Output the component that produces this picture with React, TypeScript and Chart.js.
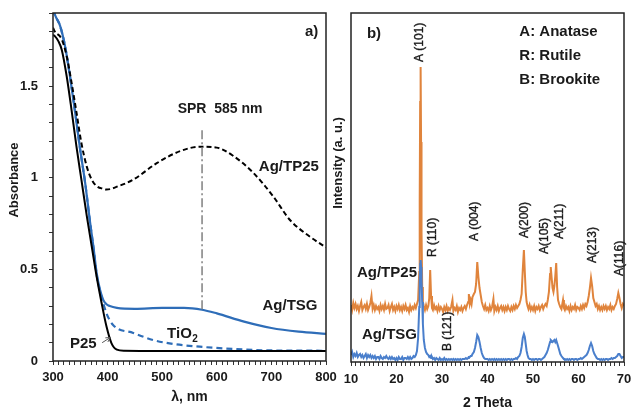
import React, { useEffect, useRef } from 'react';
import { Chart, registerables } from 'chart.js';

Chart.register(...registerables);

const FONT = '"Liberation Sans", Arial, Helvetica, sans-serif';

// ---------- Panel a) UV-Vis absorbance ----------
const p25Wavelength = [300, 303, 310, 316, 325, 334, 343, 352, 362, 371, 380, 389, 398, 407, 417, 430, 500, 600, 700, 800];
const p25Absorbance = [1.78, 1.775, 1.745, 1.70, 1.556, 1.37, 1.17, 0.99, 0.79, 0.625, 0.46, 0.317, 0.188, 0.098, 0.062, 0.056, 0.055, 0.055, 0.055, 0.055];

const agTP25Wavelength = [300, 303, 316, 325, 334, 343, 352, 362, 371, 380, 392, 398, 420, 447, 490, 533, 569, 600, 630, 666, 703, 734, 770, 800];
const agTP25Absorbance = [1.82, 1.80, 1.757, 1.665, 1.52, 1.357, 1.19, 1.06, 0.99, 0.955, 0.94, 0.936, 0.955, 0.99, 1.08, 1.146, 1.17, 1.165, 1.12, 1.03, 0.90, 0.77, 0.68, 0.62];

const agTSGWavelength = [300, 305, 313, 322, 331, 340, 349, 359, 368, 374, 380, 386, 392, 398, 404, 417, 450, 500, 540, 573, 600, 650, 700, 750, 800];
const agTSGAbsorbance = [1.92, 1.88, 1.83, 1.72, 1.556, 1.37, 1.17, 0.97, 0.755, 0.625, 0.48, 0.39, 0.334, 0.31, 0.30, 0.29, 0.285, 0.29, 0.29, 0.28, 0.26, 0.215, 0.18, 0.16, 0.148];

const tio2Wavelength = [300, 305, 313, 322, 331, 340, 349, 359, 368, 374, 380, 389, 398, 410, 447, 483, 520, 569, 630, 692, 800];
const tio2Absorbance = [1.92, 1.88, 1.83, 1.72, 1.556, 1.37, 1.17, 0.97, 0.755, 0.62, 0.47, 0.35, 0.26, 0.197, 0.153, 0.115, 0.093, 0.078, 0.066, 0.058, 0.056];

const sprWavelength = 573;
const sprRange = [0.28, 1.26];

const uvTicksX = [300, 400, 500, 600, 700, 800];

// ---------- Panel b) XRD ----------
const twoTheta = [
  10, 10.25, 10.5, 10.75, 11, 11.25, 11.5, 11.75, 12, 12.25, 12.5, 12.75, 13, 13.25, 13.5, 13.75,
  14, 14.25, 14.5, 14.75, 15, 15.25, 15.5, 15.75, 16, 16.25, 16.5, 16.75, 17, 17.25, 17.5, 17.75,
  18, 18.25, 18.5, 18.75, 19, 19.25, 19.5, 19.75, 20, 20.25, 20.5, 20.75, 21, 21.25, 21.5, 21.75,
  22, 22.25, 22.5, 22.75, 23, 23.25, 23.5, 23.75, 24, 24.25, 24.5, 24.75,
  25, 25.1, 25.2, 25.3, 25.4, 25.5, 25.65, 25.8, 26, 26.25, 26.5, 26.75,
  27, 27.2, 27.4, 27.6, 27.8, 28, 28.25, 28.5, 28.75, 29, 29.25, 29.5, 29.75,
  30, 30.25, 30.5, 30.75, 31, 31.25, 31.5, 31.75, 32, 32.3, 32.5, 32.75,
  33, 33.25, 33.5, 33.75, 34, 34.25, 34.5, 34.75, 35, 35.25, 35.5, 35.75, 35.9,
  36.1, 36.3, 36.5, 36.7, 37, 37.25, 37.5, 37.75, 38, 38.25, 38.5, 38.75,
  39, 39.25, 39.5, 39.75, 40, 40.25, 40.5, 40.75, 41, 41.3, 41.5, 41.75,
  42, 42.25, 42.5, 42.75, 43, 43.25, 43.5, 43.75, 44, 44.25, 44.5, 44.75, 45, 45.25, 45.5, 45.75, 46, 46.25, 46.5, 46.75,
  47, 47.25, 47.5, 47.75, 48, 48.2, 48.4, 48.6, 48.8,
  49, 49.25, 49.5, 49.75, 50, 50.25, 50.5, 50.75, 51, 51.25, 51.5, 51.75, 52, 52.25, 52.5, 52.75,
  53, 53.25, 53.5, 53.75, 53.9, 54.1, 54.3, 54.5, 54.7, 54.9, 55.1, 55.3, 55.5, 55.75,
  56, 56.25, 56.6, 56.8,
  57, 57.25, 57.5, 57.75, 58, 58.25, 58.5, 58.75, 59, 59.25, 59.5, 59.75, 60, 60.25, 60.5, 60.75, 61, 61.25, 61.5, 61.75,
  62, 62.25, 62.5, 62.75, 63, 63.25, 63.5, 63.75,
  64, 64.25, 64.5, 64.75, 65, 65.25, 65.5, 65.75, 66, 66.25, 66.5, 66.75, 67, 67.25, 67.5, 67.75,
  68, 68.25, 68.5, 68.75, 69, 69.25, 69.5, 69.75, 70,
];
const agTP25Intensity = [
  57, 52, 59, 54, 58, 53, 56, 51, 56, 60, 52, 55, 57, 53, 58, 52,
  55, 59, 66, 53, 57, 52, 56, 53, 55, 51, 57, 53, 56, 52, 58, 53,
  54, 57, 51, 55, 58, 52, 55, 51, 56, 53, 57, 52, 55, 51, 56, 53,
  57, 52, 54, 50, 56, 52, 55, 53, 57, 54, 58, 62,
  90, 160, 260, 295, 220, 130, 75, 60, 56, 52, 57, 53,
  56, 64, 92, 66, 54, 52, 57, 53, 55, 51, 56, 52, 55,
  53, 50, 55, 52, 56, 51, 54, 52, 55, 62, 51, 54,
  52, 56, 50, 54, 52, 55, 51, 54, 56, 53, 57, 60, 68,
  58, 62, 58, 65, 68, 70, 78, 100, 85, 74, 67, 60,
  56, 53, 57, 52, 54, 51, 56, 52, 55, 63, 51, 55,
  52, 56, 51, 54, 56, 52, 55, 51, 55, 52, 56, 53, 51, 55, 52, 56, 53, 57, 54, 56,
  58, 62, 68, 92, 112, 90, 70, 60, 56,
  53, 57, 52, 55, 52, 56, 51, 55, 53, 56, 52, 55, 57, 53, 56, 58,
  56, 62, 70, 88, 95, 84, 74, 70, 76, 86, 99, 75, 62, 58,
  55, 53, 62, 54,
  52, 56, 53, 55, 51, 56, 52, 55, 53, 57, 52, 55, 54, 52, 56, 53, 57, 54, 58, 56,
  60, 66, 74, 84, 76, 64, 60, 56,
  58, 53, 56, 52, 55, 52, 56, 53, 56, 52, 55, 53, 57, 52, 55, 53,
  56, 58, 63, 69, 64, 58, 54, 58, 56,
];
const agTSGIntensity = [
  7, 10, 5, 8, 6, 9, 5, 7, 8, 5, 7, 4, 6, 8, 4, 7,
  5, 7, 4, 6, 4, 6, 3, 5, 5, 3, 6, 4, 3, 5, 4, 6,
  4, 3, 5, 3, 5, 3, 4, 2, 4, 2, 5, 3, 3, 5, 2, 4,
  4, 3, 5, 3, 5, 3, 4, 6, 5, 7, 11, 24,
  55, 80, 98, 102, 95, 82, 60, 38, 22, 14, 10, 8,
  7, 5, 6, 4, 5, 3, 4, 2, 4, 3, 2, 4, 2,
  3, 2, 4, 2, 3, 2, 3, 2, 3, 2, 3, 2,
  3, 2, 3, 2, 3, 2, 3, 3, 3, 4, 3, 4, 5,
  5, 6, 6, 8, 10, 14, 20, 27, 25, 20, 14, 9,
  6, 4, 3, 3, 3, 2, 3, 2, 3, 2, 3, 2,
  3, 2, 3, 2, 3, 2, 3, 2, 3, 2, 3, 3, 2, 3, 2, 3, 3, 4, 3, 5,
  6, 9, 15, 24, 28, 25, 18, 11, 7,
  4, 3, 3, 2, 3, 2, 3, 3, 2, 3, 3, 2, 3, 4, 5, 7,
  9, 12, 16, 20, 22, 21, 20, 21, 22, 20, 22, 19, 16, 12,
  8, 6, 4, 3,
  3, 2, 3, 2, 3, 2, 3, 3, 2, 3, 3, 2, 3, 3, 4, 3, 4, 5, 6, 7,
  9, 12, 16, 19, 16, 11, 8, 6,
  4, 3, 3, 2, 3, 2, 3, 2, 3, 3, 2, 3, 3, 4, 3, 4,
  4, 5, 6, 8, 8, 6, 4, 5, 5,
];

const peakLabels = ['A (101)', 'R (110)', 'A (004)', 'A(200)', 'A(105)', 'A(211)', 'A(213)', 'A(116)', 'B (121)'];
const peakLabelTheta = [25.2, 28.0, 37.25, 48.2, 52.6, 55.9, 63.2, 69.0, 31.3];
const peakLabelBase = [300, 105, 121, 124, 108, 123, 99, 86, 11];

const phaseLegend = ['A: Anatase', 'R: Rutile', 'B: Brookite'];
const xrdTicksX = [10, 20, 30, 40, 50, 60, 70];

const zip = (xs: number[], ys: number[]) => xs.map((x, i) => ({ x, y: ys[i] }));

const TEXT = '#1a1a1a';

const framePlugin = {
  id: 'frame',
  afterDraw(chart: any) {
    const { ctx, chartArea } = chart;
    const { left, top, right, bottom } = chartArea;
    ctx.save();
    ctx.strokeStyle = '#222';
    ctx.lineWidth = 1.5;
    ctx.strokeRect(left, top, right - left, bottom - top);
    ctx.restore();
  },
};

const uvAnnotations = {
  id: 'uvAnn',
  afterDraw(chart: any) {
    const { ctx } = chart;
    const xs = chart.scales.x;
    const ys = chart.scales.y;
    const px = (v: number) => xs.getPixelForValue(v);
    const py = (v: number) => ys.getPixelForValue(v);
    ctx.save();
    // SPR dash-dot line
    ctx.strokeStyle = '#808080';
    ctx.lineWidth = 1.5;
    ctx.setLineDash([9, 3, 2, 3]);
    ctx.beginPath();
    ctx.moveTo(px(sprWavelength), py(sprRange[1]));
    ctx.lineTo(px(sprWavelength), py(sprRange[0]));
    ctx.stroke();
    ctx.setLineDash([]);

    ctx.fillStyle = TEXT;
    ctx.textBaseline = 'middle';
    ctx.font = `bold 15px ${FONT}`;
    ctx.textAlign = 'right';
    ctx.fillText('a)', px(786), py(1.795));
    ctx.textAlign = 'center';
    ctx.font = `bold 14px ${FONT}`;
    ctx.fillText('SPR  585 nm', px(606), py(1.374));
    ctx.font = `bold 15px ${FONT}`;
    ctx.fillText('Ag/TP25', px(732), py(1.06));
    ctx.fillText('Ag/TSG', px(734), py(0.30));
    ctx.textAlign = 'left';
    ctx.fillText('P25', px(331), py(0.093));
    // TiO2 with subscript
    const tx = px(509);
    const ty = py(0.148);
    ctx.fillText('TiO', tx, ty);
    const w = ctx.measureText('TiO').width;
    ctx.font = `bold 10px ${FONT}`;
    ctx.fillText('2', tx + w + 0.5, ty + 5);

    // arrow from P25 label to curve
    const x1 = px(390), y1 = py(0.10), x2 = px(405), y2 = py(0.128);
    ctx.strokeStyle = '#555';
    ctx.lineWidth = 1;
    ctx.beginPath();
    ctx.moveTo(x1, y1);
    ctx.lineTo(x2, y2);
    const ang = Math.atan2(y2 - y1, x2 - x1);
    ctx.moveTo(x2, y2);
    ctx.lineTo(x2 - 5 * Math.cos(ang - 0.5), y2 - 5 * Math.sin(ang - 0.5));
    ctx.moveTo(x2, y2);
    ctx.lineTo(x2 - 5 * Math.cos(ang + 0.5), y2 - 5 * Math.sin(ang + 0.5));
    ctx.stroke();

    // axis titles
    ctx.fillStyle = TEXT;
    ctx.font = `bold 14px ${FONT}`;
    ctx.textAlign = 'center';
    ctx.fillText('λ, nm', (chart.chartArea.left + chart.chartArea.right) / 2, 397);
    ctx.translate(14, 180);
    ctx.rotate(-Math.PI / 2);
    ctx.font = `bold 13px ${FONT}`;
    ctx.fillText('Absorbance', 0, 0);
    ctx.restore();
  },
};

const xrdAnnotations = {
  id: 'xrdAnn',
  afterDraw(chart: any) {
    const { ctx } = chart;
    const xs = chart.scales.x;
    const ys = chart.scales.y;
    const px = (v: number) => xs.getPixelForValue(v);
    const py = (v: number) => ys.getPixelForValue(v);
    ctx.save();
    ctx.fillStyle = TEXT;
    ctx.strokeStyle = TEXT;
    ctx.lineWidth = 0.35;
    ctx.textBaseline = 'middle';
    ctx.font = `12px ${FONT}`;
    ctx.textAlign = 'left';
    peakLabels.forEach((label, i) => {
      ctx.save();
      ctx.translate(px(peakLabelTheta[i]), py(peakLabelBase[i]));
      ctx.rotate(-Math.PI / 2);
      ctx.fillText(label, 0, 0);
      ctx.strokeText(label, 0, 0);
      ctx.restore();
    });
    ctx.font = `bold 15px ${FONT}`;
    phaseLegend.forEach((t, i) => {
      ctx.fillText(t, px(47.0), py(330 - i * 24));
    });
    ctx.fillText('b)', px(13.5), py(328));
    ctx.textAlign = 'right';
    ctx.fillText('Ag/TP25', px(24.5), py(89));
    ctx.fillText('Ag/TSG', px(24.5), py(27));

    ctx.textAlign = 'center';
    ctx.font = `bold 14px ${FONT}`;
    ctx.textBaseline = 'top';
    ctx.fillText('2 Theta', (chart.chartArea.left + chart.chartArea.right) / 2, 396);
    ctx.textBaseline = 'middle';
    ctx.translate(8, 163);
    ctx.rotate(-Math.PI / 2);
    ctx.font = `bold 13px ${FONT}`;
    ctx.fillText('Intensity (a. u.)', 0, 0);
    ctx.restore();
  },
};

const tickFont = { family: FONT, size: 13, weight: 'bold' as const };

function UVChart() {
  const ref = useRef<HTMLCanvasElement>(null);
  useEffect(() => {
    const chart = new Chart(ref.current!, {
      type: 'line',
      data: {
        datasets: [
          { label: 'P25', data: zip(p25Wavelength, p25Absorbance), borderColor: '#000', borderWidth: 2, pointRadius: 0, cubicInterpolationMode: 'monotone' },
          { label: 'Ag/TP25', data: zip(agTP25Wavelength, agTP25Absorbance), borderColor: '#000', borderWidth: 2, borderDash: [5, 3], pointRadius: 0, cubicInterpolationMode: 'monotone' },
          { label: 'Ag/TSG', data: zip(agTSGWavelength, agTSGAbsorbance), borderColor: '#2E6DB8', borderWidth: 2.2, pointRadius: 0, cubicInterpolationMode: 'monotone' },
          { label: 'TiO2', data: zip(tio2Wavelength, tio2Absorbance), borderColor: '#2E6DB8', borderWidth: 2.2, borderDash: [6, 4], pointRadius: 0, cubicInterpolationMode: 'monotone' },
        ],
      },
      options: {
        animation: false,
        responsive: false,
        layout: { padding: { top: 13, right: 19, left: 0, bottom: 0 } },
        plugins: { legend: { display: false }, tooltip: { enabled: false } },
        scales: {
          x: {
            type: 'linear', min: 300, max: 800,
            afterFit: (s: any) => { s.height = 46; s.paddingLeft = 0; s.paddingRight = 0; },
            ticks: {
              stepSize: 10, autoSkip: false, maxRotation: 0, padding: 5, color: TEXT, font: tickFont,
              callback: (v: any) => (uvTicksX.includes(Number(v)) ? String(v) : ''),
            },
            grid: { drawOnChartArea: false, tickLength: 4, tickColor: '#333', tickWidth: 1 },
            border: { display: false },
          },
          y: {
            type: 'linear', min: 0, max: 1.9,
            afterFit: (s: any) => { s.width = 53; s.paddingTop = 0; s.paddingBottom = 0; },
            ticks: {
              stepSize: 0.1, autoSkip: false, padding: 11, color: TEXT, font: tickFont,
              callback: (v: any) => {
                const r = Math.round(Number(v) * 10);
                if (r % 5 !== 0) return '';
                return r % 10 === 0 ? String(r / 10) : (r / 10).toFixed(1);
              },
            },
            grid: { drawOnChartArea: false, tickLength: 4, tickColor: '#333', tickWidth: 1 },
            border: { display: false },
          },
        },
      },
      plugins: [framePlugin, uvAnnotations],
    } as any);
    return () => chart.destroy();
  }, []);
  return <canvas ref={ref} width={345} height={407} style={{ position: 'absolute', left: 0, top: 0, width: 345, height: 407 }} />;
}

function XRDChart() {
  const ref = useRef<HTMLCanvasElement>(null);
  useEffect(() => {
    const chart = new Chart(ref.current!, {
      type: 'line',
      data: {
        datasets: [
          { label: 'Ag/TSG', data: zip(twoTheta, agTSGIntensity), borderColor: '#4A7FCC', borderWidth: 2, pointRadius: 0, tension: 0 },
          { label: 'Ag/TP25', data: zip(twoTheta, agTP25Intensity), borderColor: '#E0843C', borderWidth: 2, pointRadius: 0, tension: 0 },
        ],
      },
      options: {
        animation: false,
        responsive: false,
        layout: { padding: { top: 13, right: 8, left: 0, bottom: 0 } },
        plugins: { legend: { display: false }, tooltip: { enabled: false } },
        scales: {
          x: {
            type: 'linear', min: 10, max: 70,
            afterFit: (s: any) => { s.height = 45; s.paddingLeft = 0; s.paddingRight = 0; },
            ticks: {
              stepSize: 1, autoSkip: false, maxRotation: 0, padding: 6, color: TEXT, font: tickFont,
              callback: (v: any) => (xrdTicksX.includes(Number(v)) ? String(v) : ''),
            },
            grid: { drawOnChartArea: false, tickLength: 4, tickColor: '#333', tickWidth: 1 },
            border: { display: false },
          },
          y: {
            type: 'linear', min: 0, max: 349,
            afterFit: (s: any) => { s.width = 21; s.paddingTop = 0; s.paddingBottom = 0; },
            ticks: { display: false },
            grid: { display: false },
            border: { display: false },
          },
        },
      },
      plugins: [framePlugin, xrdAnnotations],
    } as any);
    return () => chart.destroy();
  }, []);
  return <canvas ref={ref} width={302} height={407} style={{ position: 'absolute', left: 330, top: 0, width: 302, height: 407 }} />;
}

export default function App() {
  return (
    <div style={{ position: 'fixed', left: 0, top: 0, width: 632, height: 407, background: '#fff', overflow: 'hidden' }}>
      <XRDChart />
      <UVChart />
    </div>
  );
}
